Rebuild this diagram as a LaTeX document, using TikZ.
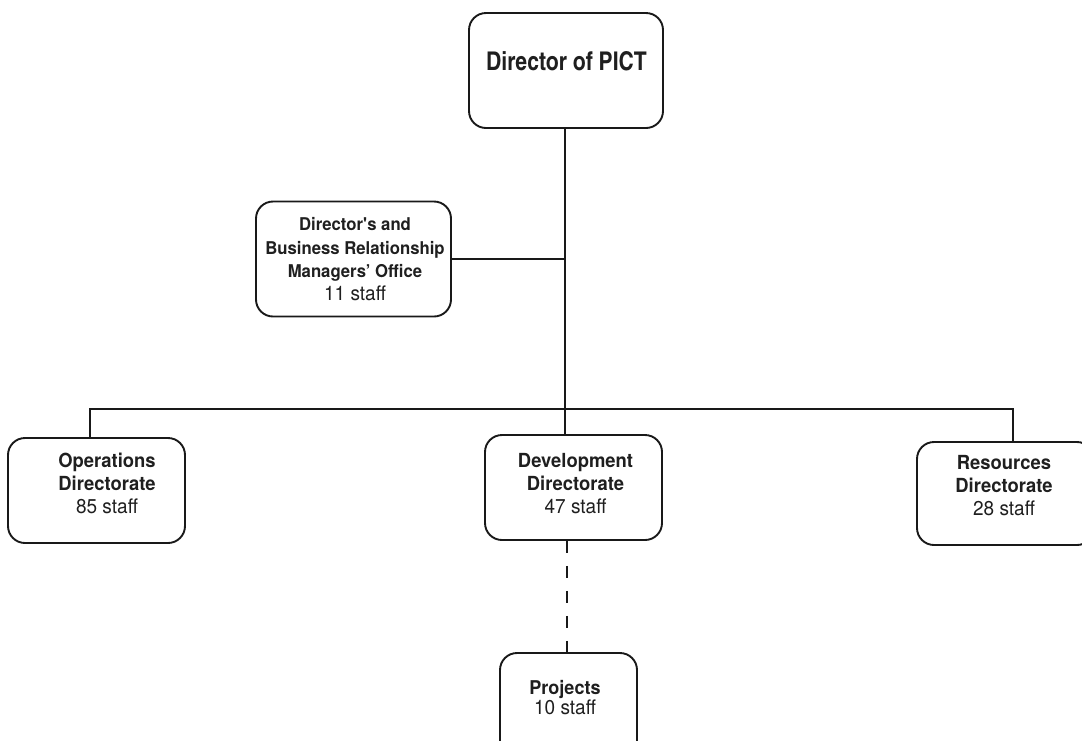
\documentclass[tikz,border=0pt]{standalone}
\usepackage{fontspec}
\setmainfont{texgyreheros}[Extension=.otf, UprightFont=*-regular, BoldFont=*-bold, FakeStretch=0.95]
\newfontfamily\headfont{texgyreheroscn}[Extension=.otf, UprightFont=*-bold]
\begin{document}
\begin{tikzpicture}[x=1pt, y=-1pt,
  box/.style={draw=black!90, line width=1.9pt, rounded corners=17pt, inner sep=0pt},
  lbl/.style={align=center, text=black!88, anchor=base, inner sep=0pt,
              font=\fontsize{19.4}{23}\selectfont},
  link/.style={draw=black!90, line width=1.9pt},
  dashlink/.style={link, dash pattern=on 12.5pt off 12.5pt}]
\newcommand\staffline[1]{{\fontsize{20}{23}\selectfont #1}}
\useasboundingbox (0,0) rectangle (1082,740);
% boxes
\node[box, minimum width=194pt, minimum height=115pt] (dir) at (566,70.5) {};
\node[box, minimum width=195pt, minimum height=115pt] (off) at (353.5,259) {};
\node[box, minimum width=177pt, minimum height=105pt] (ops) at (96.5,490.5) {};
\node[box, minimum width=177pt, minimum height=105pt] (dev) at (573.5,487.5) {};
\node[box, minimum width=177pt, minimum height=103pt] (res) at (1005.5,493.5) {};
\node[box, minimum width=137pt, minimum height=105pt] (proj) at (568.5,705.5) {};
% labels (anchored at the baseline of the last line)
\node[lbl, font=\fontsize{25.8}{30}\headfont] (tdir) at (566.5,70) {Director of PICT};
\node[lbl, font=\fontsize{17.6}{23.3}\selectfont] (toff) at (355,300.7)
  {\textbf{Director\textquotesingle s and}\\\textbf{Business Relationship}\\\textbf{Managers’ Office}\\\staffline{11 staff}};
\node[lbl] (tops) at (107,513.5) {\textbf{Operations}\\\textbf{Directorate}\\\staffline{85 staff}};
\node[lbl] (tdev) at (575.5,513.3) {\textbf{Development}\\\textbf{Directorate}\\\staffline{47 staff}};
\node[lbl] (tres) at (1004,515) {\textbf{Resources}\\\textbf{Directorate}\\\staffline{28 staff}};
\node[lbl, font=\fontsize{19}{20}\selectfont] (tproj) at (565,714) {\textbf{Projects}\\\staffline{10 staff}};
% junctions of the lines
\coordinate (bus) at (565,409);
\coordinate (opsdrop) at (90,409);
\coordinate (resdrop) at (1013,409);
% connectors
\draw[link] (dir.south -| bus) -- (bus) -- (bus |- dev.north);
\draw[link] (off.east) -- (off.east -| bus);
\draw[link] (ops.north -| opsdrop) -- (opsdrop) -- (resdrop) -- (res.north -| resdrop);
\draw[dashlink] (dev.south -| 567,0) -- (proj.north -| 567,0);
\end{tikzpicture}
\end{document}
